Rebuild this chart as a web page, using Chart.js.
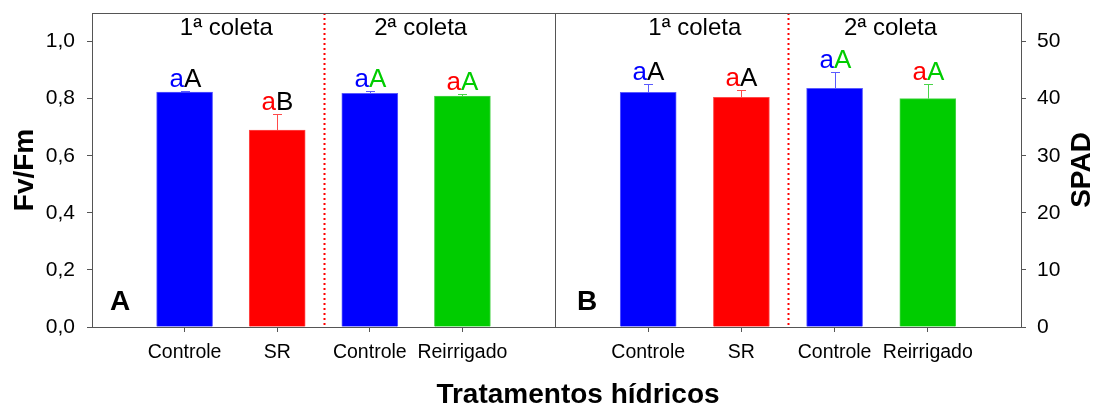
<!DOCTYPE html>
<html>
<head>
<meta charset="utf-8">
<script src="https://cdn.jsdelivr.net/npm/chart.js@4.4.1/dist/chart.umd.min.js"></script>
<style>
  html, body { margin: 0; padding: 0; background: #fff; }
  body { width: 1093px; height: 405px; position: relative; overflow: hidden; font-family: "Liberation Sans", Arial, sans-serif; }
  #wrapA { position: absolute; left: 0; top: 0; width: 556px; height: 405px; }
  #wrapB { position: absolute; left: 555px; top: 0; width: 538px; height: 405px; }
  #xtitle { position: absolute; left: 0; top: 380px; width: 1156px; text-align: center; font-weight: bold; font-size: 28px; line-height: 28px; color: #000; }
</style>
</head>
<body>
<div id="wrapA"><canvas id="chartA"></canvas></div>
<div id="wrapB"><canvas id="chartB"></canvas></div>
<div id="xtitle">Tratamentos hídricos</div>
<script>
// data
const categories = ['Controle', 'SR', 'Controle', 'Reirrigado'];
const xPos = [1, 2, 3, 4];
const fvfm = [0.823, 0.690, 0.819, 0.809];
const fvfmErr = [0.004, 0.055, 0.008, 0.007];
const spad = [41.1, 40.25, 41.8, 40.0];
const spadErr = [1.5, 1.25, 2.8, 2.6];
const fvfmTicks = [0, 0.2, 0.4, 0.6, 0.8, 1.0];
const spadTicks = [0, 10, 20, 30, 40, 50];
const lettersFvfm = [['a', 'A'], ['a', 'B'], ['a', 'A'], ['a', 'A']];
const lettersSpad = [['a', 'A'], ['a', 'A'], ['a', 'A'], ['a', 'A']];
const periods = ['1ª coleta', '2ª coleta'];

const FONT = '"Liberation Sans", Arial, sans-serif';
const barColors = ['#0000ff', '#ff0000', '#0000ff', '#00cc00'];
const edgeColors = ['#5a5aff', '#ff4a4a', '#5a5aff', '#4ad44a'];
const lowerColors = ['#0000ff', '#ff0000', '#0000ff', '#ff0000'];
const upperColors = ['#000000', '#000000', '#00cc00', '#00cc00'];
const frameColor = '#555555';

function panelPlugin(p) {
  return {
    id: 'panel' + p.tag,
    afterDatasetsDraw(chart) {
      const ctx = chart.ctx;
      const a = chart.chartArea;
      const x = chart.scales.x, y = chart.scales.y;
      ctx.save();

      // dotted separator between the two collections
      const sx = Math.round(x.getPixelForValue(2.5)) + 0.5;
      ctx.strokeStyle = '#ff0000';
      ctx.lineWidth = 2;
      ctx.setLineDash([2, 3]);
      ctx.beginPath();
      ctx.moveTo(sx, a.top);
      ctx.lineTo(sx, a.bottom);
      ctx.stroke();
      ctx.setLineDash([]);

      // error bars (upper only) + letters
      p.values.forEach((v, i) => {
        const px = Math.round(x.getPixelForValue(xPos[i])) + 0.5;
        const y0 = y.getPixelForValue(v);
        const y1 = Math.round(y.getPixelForValue(v + p.errors[i])) + 0.5;
        ctx.strokeStyle = edgeColors[i];
        ctx.lineWidth = 1;
        ctx.beginPath();
        ctx.moveTo(px, y0);
        ctx.lineTo(px, y1);
        ctx.moveTo(px - 4.5, y1);
        ctx.lineTo(px + 4.5, y1);
        ctx.stroke();

        ctx.font = '26px ' + FONT;
        ctx.textAlign = 'left';
        ctx.textBaseline = 'alphabetic';
        const lo = p.letters[i][0], up = p.letters[i][1];
        const w1 = ctx.measureText(lo).width, w2 = ctx.measureText(up).width;
        const lx = px - (w1 + w2) / 2;
        ctx.fillStyle = lowerColors[i];
        ctx.fillText(lo, lx, y1 - 5);
        ctx.fillStyle = upperColors[i];
        ctx.fillText(up, lx + w1, y1 - 5);
      });

      // collection headers
      ctx.font = '24px ' + FONT;
      ctx.fillStyle = '#000';
      ctx.textAlign = 'center';
      periods.forEach((t, i) => {
        ctx.fillText(t, x.getPixelForValue(p.headerPos[i]), 35);
      });

      // panel letter
      ctx.font = 'bold 28px ' + FONT;
      ctx.fillText(p.tag, a.left + p.tagOffset, 310);

      // y title, rotated
      ctx.save();
      ctx.translate(p.titleX, 170);
      ctx.rotate(-Math.PI / 2);
      ctx.font = 'bold 28px ' + FONT;
      ctx.textAlign = 'center';
      ctx.fillText(p.title, 0, 0);
      ctx.restore();

      // frame
      ctx.strokeStyle = frameColor;
      ctx.lineWidth = 1;
      ctx.strokeRect(Math.round(a.left) + 0.5, Math.round(a.top) + 0.5,
        Math.round(a.right - a.left), Math.round(a.bottom - a.top));
      ctx.restore();
    }
  };
}

function makeChart(id, p) {
  return new Chart(document.getElementById(id), {
    type: 'bar',
    data: {
      datasets: [{
        data: xPos.map((v, i) => ({ x: v, y: p.values[i] })),
        backgroundColor: barColors,
        borderColor: edgeColors,
        borderWidth: 1,
        barThickness: 56
      }]
    },
    options: {
      responsive: true,
      maintainAspectRatio: false,
      animation: false,
      layout: { padding: { left: 0, right: p.padRight, top: 13, bottom: 0 } },
      plugins: { legend: { display: false }, tooltip: { enabled: false } },
      scales: {
        x: {
          type: 'linear', min: 0, max: 5, offset: false,
          afterBuildTicks: s => { s.ticks = xPos.map(v => ({ value: v })); },
          afterFit: s => { s.height = 78; s.paddingLeft = 0; s.paddingRight = 0; },
          ticks: {
            callback: (v, i) => categories[i],
            font: { size: 19.5, family: FONT }, color: '#000',
            padding: 9, maxRotation: 0, autoSkip: false
          },
          grid: { offset: false, drawOnChartArea: false, drawTicks: true, tickLength: 5, color: frameColor },
          border: { display: false }
        },
        y: {
          type: 'linear', position: p.ySide, min: 0, max: p.yMax,
          afterBuildTicks: s => { s.ticks = p.ticks.map(v => ({ value: v })); },
          afterFit: s => { s.width = p.yWidth; s.paddingTop = 0; s.paddingBottom = 0; },
          ticks: {
            callback: p.fmt,
            font: { size: 21, family: FONT }, color: '#000',
            padding: p.yPad
          },
          grid: { drawOnChartArea: false, drawTicks: true, tickLength: 5, color: frameColor },
          border: { display: false }
        }
      }
    },
    plugins: [panelPlugin(p)]
  });
}

makeChart('chartA', {
  tag: 'A', values: fvfm, errors: fvfmErr, letters: lettersFvfm,
  ticks: fvfmTicks, yMax: 1.1, ySide: 'left', yWidth: 92, yPad: 12, padRight: 1,
  fmt: v => v.toFixed(1).replace('.', ','),
  headerPos: [1.45, 3.55], tagOffset: 28, title: 'Fv/Fm', titleX: 33
});

makeChart('chartB', {
  tag: 'B', values: spad, errors: spadErr, letters: lettersSpad,
  ticks: spadTicks, yMax: 55, ySide: 'right', yWidth: 72, yPad: 11, padRight: 0,
  fmt: v => String(v),
  headerPos: [1.5, 3.6], tagOffset: 32, title: 'SPAD', titleX: 535
});
</script>
</body>
</html>
